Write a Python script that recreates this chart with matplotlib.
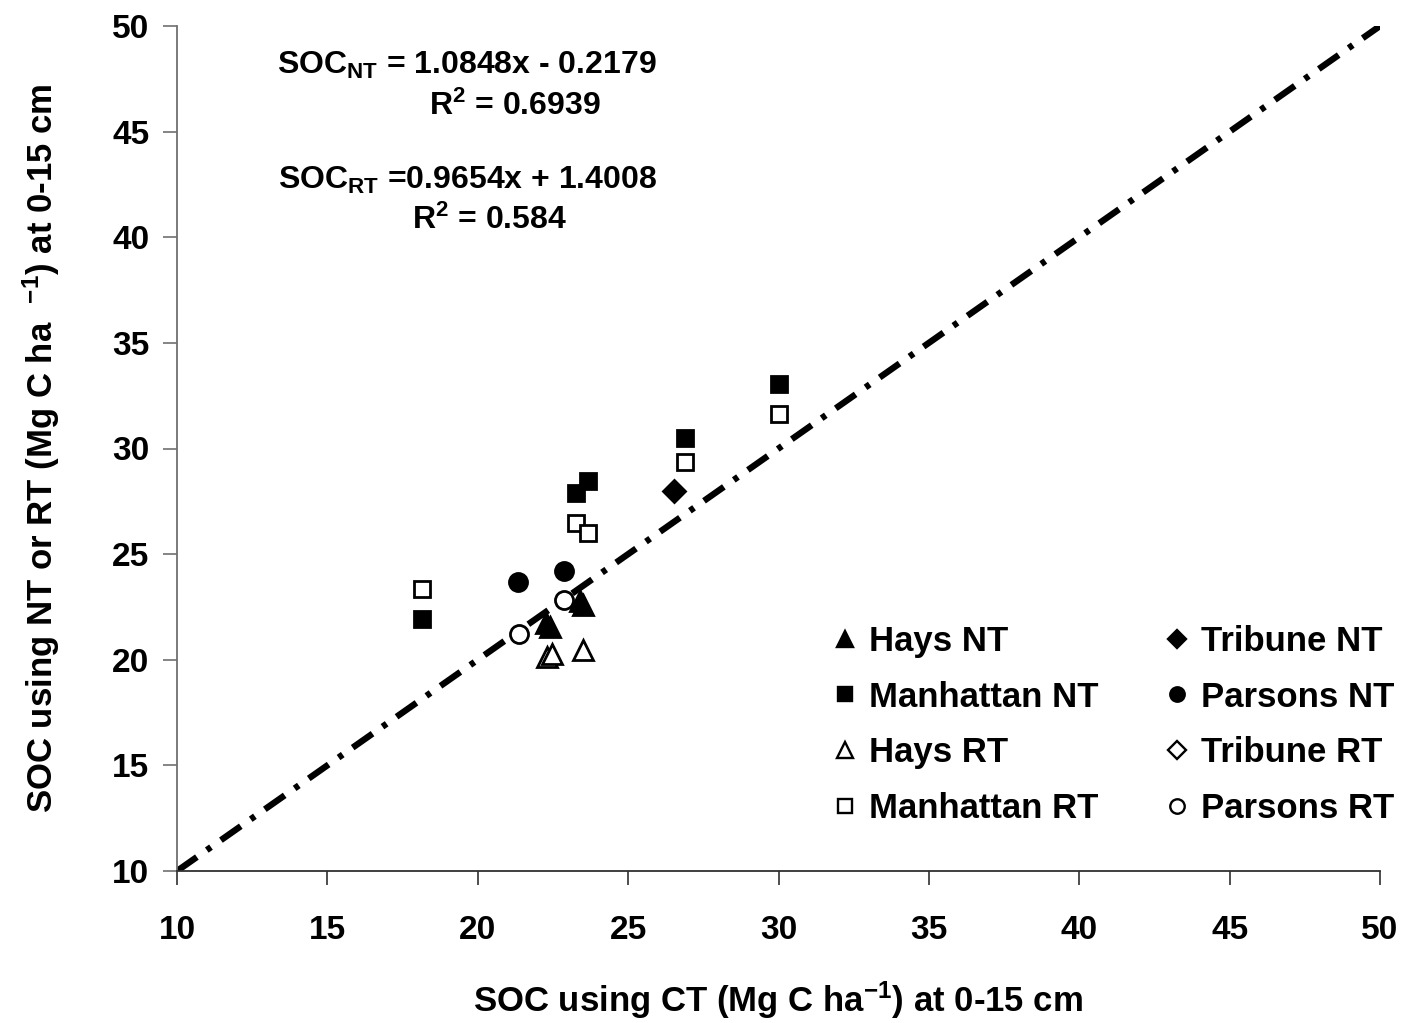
import matplotlib
matplotlib.use("Agg")
import matplotlib.pyplot as plt
from matplotlib.lines import Line2D

plt.rcParams['font.family'] = ['Liberation Sans', 'DejaVu Sans']
plt.rcParams['font.weight'] = 'bold'
plt.rcParams['mathtext.fontset'] = 'custom'
plt.rcParams['mathtext.rm'] = 'Liberation Sans:bold'
plt.rcParams['mathtext.bf'] = 'Liberation Sans:bold'
plt.rcParams['mathtext.it'] = 'Liberation Sans:bold'

# ---- data (x = SOC under CT, y = SOC under NT or RT) ----
hays_nt_x = [22.28, 22.41, 23.40, 23.49]
hays_nt_y = [21.73, 21.54, 22.76, 22.60]
manhattan_nt_x = [18.14, 23.27, 23.68, 26.89, 30.02]
manhattan_nt_y = [21.93, 27.90, 28.46, 30.50, 33.07]
hays_rt_x = [22.29, 22.46, 23.51]
hays_rt_y = [20.12, 20.28, 20.44]
manhattan_rt_x = [18.14, 23.27, 23.68, 26.89, 30.02]
manhattan_rt_y = [23.35, 26.49, 26.02, 29.35, 31.63]
tribune_nt_x = [26.54]
tribune_nt_y = [27.99]
parsons_nt_x = [21.35, 22.87]
parsons_nt_y = [23.66, 24.21]
tribune_rt_x = []
tribune_rt_y = []
parsons_rt_x = [21.37, 22.87]
parsons_rt_y = [21.23, 22.83]

one_to_one = [10, 50]
ticks = [10, 15, 20, 25, 30, 35, 40, 45, 50]

fig = plt.figure(figsize=(14.07, 10.23), dpi=100)
ax = fig.add_axes([177/1407, 1-871/1023, (1380-177)/1407, (871-26)/1023])

# 1:1 line
ax.plot(one_to_one, one_to_one, color='black', lw=4.6, dashes=(3.8, 1.9, 0.8, 1.9),
        solid_capstyle='butt', dash_capstyle='butt', zorder=2)

mew = 2.0
series = [
    (hays_nt_x, hays_nt_y, '^', 'black', 'Hays NT', 14),
    (manhattan_nt_x, manhattan_nt_y, 's', 'black', 'Manhattan NT', 12),
    (hays_rt_x, hays_rt_y, '^', 'white', 'Hays RT', 14),
    (manhattan_rt_x, manhattan_rt_y, 's', 'white', 'Manhattan RT', 12),
    (tribune_nt_x, tribune_nt_y, 'D', 'black', 'Tribune NT', 11),
    (parsons_nt_x, parsons_nt_y, 'o', 'black', 'Parsons NT', 13),
    (tribune_rt_x, tribune_rt_y, 'D', 'white', 'Tribune RT', 11),
    (parsons_rt_x, parsons_rt_y, 'o', 'white', 'Parsons RT', 13),
]
handles = []
for xs, ys, mk, fc, lab, size in series:
    ax.plot(xs, ys, linestyle='none', marker=mk, markersize=size,
            markerfacecolor=fc, markeredgecolor='black', markeredgewidth=mew, zorder=3)
    handles.append(Line2D([], [], linestyle='none', marker=mk, markersize=size * 0.8,
                          markerfacecolor=fc, markeredgecolor='black',
                          markeredgewidth=1.7, label=lab))

ax.set_xlim(10, 50)
ax.set_ylim(10, 50)
ax.set_xticks(ticks)
ax.set_yticks(ticks)
ax.tick_params(axis='both', labelsize=24, length=10, width=1.2, direction='out')
ax.tick_params(axis='x', pad=22)
ax.tick_params(axis='y', pad=10)
for lbl in ax.get_xticklabels() + ax.get_yticklabels():
    lbl.set_fontweight('bold')
ax.spines['top'].set_visible(False)
ax.spines['right'].set_visible(False)
ax.spines['left'].set_color('#707070')
ax.spines['left'].set_linewidth(1.3)
ax.spines['bottom'].set_color('#303030')
ax.spines['bottom'].set_linewidth(1.3)
ax.tick_params(axis='y', color='#707070')
ax.tick_params(axis='x', color='#303030')

ax.set_xlabel(r'SOC using CT (Mg C ha$^{-1}$) at 0-15 cm', fontsize=25,
              fontweight='bold', labelpad=24)
ax.set_ylabel(r'SOC using NT or RT (Mg C ha  $^{-1}$) at 0-15 cm', fontsize=25,
              fontweight='bold', labelpad=36)

# regression equations
fs_eq = 23
fig.text(467/1407, 1-65/1023, r'SOC$_{NT}$ = 1.0848x - 0.2179', ha='center', va='center',
         fontsize=fs_eq, fontweight='bold')
fig.text(515/1407, 1-106/1023, r'R$^{2}$ = 0.6939', ha='center', va='center',
         fontsize=fs_eq, fontweight='bold')
fig.text(467/1407, 1-180/1023, r'SOC$_{RT}$ =0.9654x + 1.4008', ha='center', va='center',
         fontsize=fs_eq, fontweight='bold')
fig.text(490/1407, 1-220/1023, r'R$^{2}$ = 0.584', ha='center', va='center',
         fontsize=fs_eq, fontweight='bold')

leg = fig.legend(handles=handles, ncol=2, loc='upper left',
                 bbox_to_anchor=(833/1407, 1-625/1023), frameon=False,
                 prop={'size': 25, 'weight': 'bold'}, handlelength=0.7,
                 handletextpad=0.35, columnspacing=1.9, labelspacing=0.65,
                 borderpad=0, borderaxespad=0)

fig.savefig('out.png', dpi=100)
